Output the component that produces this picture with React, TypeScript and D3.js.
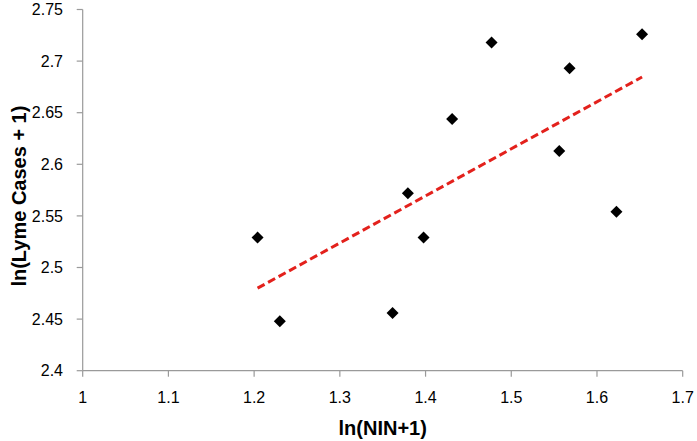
import React from "react";
import * as d3 from "d3";

const xValues = [1.204, 1.23, 1.3615, 1.3794, 1.3977, 1.431, 1.477, 1.556, 1.568, 1.6227, 1.6526];
const yValues = [2.529, 2.448, 2.456, 2.572, 2.529, 2.644, 2.718, 2.613, 2.693, 2.554, 2.726];
const xTicks = [1, 1.1, 1.2, 1.3, 1.4, 1.5, 1.6, 1.7];
const yTicks = [2.4, 2.45, 2.5, 2.55, 2.6, 2.65, 2.7, 2.75];
const xTitle = "ln(NIN+1)";
const yTitle = "ln(Lyme Cases + 1)";

const W = 697;
const H = 441;
const left = 82.7;
const right = 682.7;
const top = 9.5;
const bottom = 370.7;
const axisColor = "#9a9a9a";
const font = "'Liberation Sans', Arial, sans-serif";

export default function App() {
  const x = d3.scaleLinear().domain([1, 1.7]).range([left, right]);
  const y = d3.scaleLinear().domain([2.4, 2.75]).range([bottom, top]);

  const mx = d3.mean(xValues)!;
  const my = d3.mean(yValues)!;
  let sxy = 0;
  let sxx = 0;
  xValues.forEach((v, i) => {
    sxy += (v - mx) * (yValues[i] - my);
    sxx += (v - mx) * (v - mx);
  });
  const slope = sxy / sxx;
  const icpt = my - slope * mx;
  const [x0, x1] = d3.extent(xValues) as [number, number];
  const line = d3.line<number>().x((d) => x(d)).y((d) => y(icpt + slope * d));

  const diamond = (cx: number, cy: number) => {
    const r = 6;
    return `M${cx},${cy - r}L${cx + r},${cy}L${cx},${cy + r}L${cx - r},${cy}Z`;
  };

  return (
    <svg width={W} height={H} style={{ position: "absolute", left: 0, top: 0, background: "#fff" }}>
      <rect x={0} y={0} width={W} height={H} fill="#fff" />
      {/* axes */}
      <line x1={left} x2={left} y1={top} y2={bottom} stroke={axisColor} strokeWidth={1.2} />
      <line x1={left} x2={right} y1={bottom} y2={bottom} stroke={axisColor} strokeWidth={1.2} />
      {yTicks.map((t) => (
        <g key={"y" + t}>
          <line x1={left - 6} x2={left} y1={y(t)} y2={y(t)} stroke={axisColor} strokeWidth={1.2} />
          <text
            x={63}
            y={y(t)}
            dy="0.36em"
            textAnchor="end"
            fontFamily={font}
            fontSize={16}
            fill="#000"
          >
            {String(t)}
          </text>
        </g>
      ))}
      {xTicks.map((t) => (
        <g key={"x" + t}>
          <line x1={x(t)} x2={x(t)} y1={bottom} y2={bottom + 6} stroke={axisColor} strokeWidth={1.2} />
          <text x={x(t)} y={403} textAnchor="middle" fontFamily={font} fontSize={16} fill="#000">
            {String(t)}
          </text>
        </g>
      ))}
      {/* trendline */}
      <path
        d={line([x0, x1]) || ""}
        fill="none"
        stroke="#e3211c"
        strokeWidth={3}
        strokeDasharray="8 4"
      />
      {/* points */}
      {xValues.map((v, i) => (
        <path key={i} d={diamond(x(v), y(yValues[i]))} fill="#000" />
      ))}
      {/* titles */}
      <text
        x={(left + right) / 2}
        y={435}
        textAnchor="middle"
        fontFamily={font}
        fontSize={20}
        fontWeight="bold"
        fill="#000"
      >
        {xTitle}
      </text>
      <text
        transform={`translate(25.5,${(top + bottom) / 2 + 6}) rotate(-90)`}
        textAnchor="middle"
        fontFamily={font}
        fontSize={20}
        fontWeight="bold"
        fill="#000"
      >
        {yTitle}
      </text>
    </svg>
  );
}
